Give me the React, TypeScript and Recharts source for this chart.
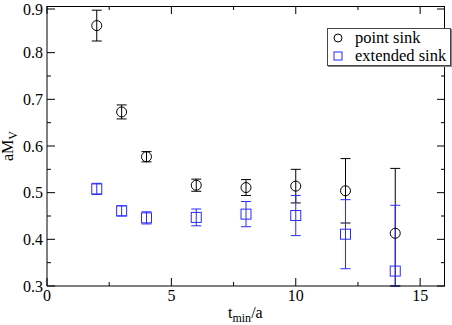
import { ErrorBar, Legend, Scatter, ScatterChart, XAxis, YAxis } from "recharts";

const tmin = [2, 3, 4, 6, 8, 10, 12, 14];
const pointSink = [0.858, 0.673, 0.577, 0.516, 0.511, 0.514, 0.504, 0.413];
const pointErr = [0.033, 0.015, 0.011, 0.013, 0.017, 0.036, 0.069, 0.139];
const extSink = [0.508, 0.461, 0.446, 0.447, 0.454, 0.451, 0.411, 0.332];
const extErr = [0.012, 0.011, 0.013, 0.018, 0.027, 0.043, 0.074, 0.141];

const xTicks = [0, 2.5, 5, 7.5, 10, 12.5, 15];
const xMajor = [0, 5, 10, 15];
const yTicks = [0.3, 0.35, 0.4, 0.45, 0.5, 0.55, 0.6, 0.65, 0.7, 0.75, 0.8, 0.85, 0.9];
const yMajor = [0.3, 0.4, 0.5, 0.6, 0.7, 0.8, 0.9];
const X_MAX = 16;
const Y_MIN = 0.3;
const Y_MAX = 0.9;

const W = 452;
const H = 325;
const Y_AXIS_W = 47;
const X_AXIS_H = 39;
const margin = { top: 6, right: 7, bottom: 0, left: 0 };
const PLOT_TOP = margin.top;
const PLOT_RIGHT = W - margin.right;

const BLUE = "#2b2bff";
const font = "'Liberation Serif', 'Times New Roman', serif";

const pointData = tmin.map((t, i) => ({ t, v: pointSink[i], err: pointErr[i] }));
const extData = tmin.map((t, i) => ({ t, v: extSink[i], err: extErr[i] }));

// error bars are not clipped by recharts, so stop them at the frame
const clippedErr = (d: { v: number; err: number }) => [
  Math.min(d.err, d.v - Y_MIN),
  Math.min(d.err, Y_MAX - d.v),
];

const isMajor = (list: number[], v: number) => list.some((m) => Math.abs(m - v) < 1e-6);
const tickLen = (list: number[], v: number) => (isMajor(list, v) ? 8 : 4);

// inward ticks, drawn by hand since recharts only draws them outward,
// plus the mirrored ones on the top and right sides
function BottomTick({ x, y, payload }: any) {
  const len = tickLen(xMajor, payload.value);
  return (
    <g>
      <line x1={x} x2={x} y1={y} y2={y - len} stroke="#000" />
      <line x1={x} x2={x} y1={PLOT_TOP} y2={PLOT_TOP + len} stroke="#000" />
      {isMajor(xMajor, payload.value) && (
        <text x={x} y={y + 15} textAnchor="middle" fontSize={16} fontFamily={font} fill="#000">
          {payload.value}
        </text>
      )}
    </g>
  );
}

function LeftTick({ x, y, payload }: any) {
  const v = payload.value;
  const len = tickLen(yMajor, v);
  return (
    <g>
      <line x1={x} x2={x + len} y1={y} y2={y} stroke="#000" />
      <line x1={PLOT_RIGHT} x2={PLOT_RIGHT - len} y1={y} y2={y} stroke="#000" />
      {isMajor(yMajor, v) && (
        <text x={x - 4} y={y + 5.5} textAnchor="end" fontSize={16} fontFamily={font} fill="#000">
          {v.toFixed(1)}
        </text>
      )}
    </g>
  );
}

function XLabel({ viewBox }: any) {
  const cx = viewBox.x + viewBox.width / 2;
  return (
    <text x={cx - 18} y={318} fontFamily={font} fontSize={16} fill="#000">
      t<tspan fontSize={12} dy={4}>min</tspan>
      <tspan dy={-4}>/a</tspan>
    </text>
  );
}

function YLabel({ viewBox }: any) {
  const cy = viewBox.y + viewBox.height / 2;
  return (
    <text
      transform={`translate(13,${cy}) rotate(-90)`}
      textAnchor="middle"
      fontFamily={font}
      fontSize={16}
      fill="#000"
    >
      aM<tspan fontSize={12} dy={4}>V</tspan>
    </text>
  );
}

const circleShape = (p: any) => (
  <circle cx={p.cx} cy={p.cy} r={5} fill="none" stroke="#000" strokeWidth={1} />
);
const squareShape = (p: any) => (
  <rect x={p.cx - 5} y={p.cy - 5} width={10} height={10} fill="none" stroke={BLUE} strokeWidth={1} />
);

function LegendBox() {
  const row = { display: "flex", alignItems: "center", height: 18 } as const;
  return (
    <div
      style={{
        border: "1px solid #444",
        boxShadow: "1px 1px 0 #888",
        background: "#fff",
        padding: "0 4px 0 5px",
        fontFamily: font,
        fontSize: 16.5,
        lineHeight: "18px",
        whiteSpace: "nowrap",
      }}
    >
      <div style={row}>
        <svg width={10} height={10} style={{ marginRight: 12 }}>
          <circle cx={5} cy={5} r={4} fill="none" stroke="#000" />
        </svg>
        point sink
      </div>
      <div style={row}>
        <svg width={10} height={10} style={{ marginRight: 12 }}>
          <rect x={1} y={1} width={8} height={8} fill="none" stroke={BLUE} />
        </svg>
        extended sink
      </div>
    </div>
  );
}

export default function App() {
  return (
    <div style={{ position: "absolute", left: 0, top: 0, width: W, height: H }}>
      {/* top and right sides of the frame, under the chart and its legend */}
      <div
        style={{
          position: "absolute",
          left: Y_AXIS_W,
          top: PLOT_TOP,
          width: PLOT_RIGHT - Y_AXIS_W,
          height: H - X_AXIS_H - PLOT_TOP,
          boxSizing: "border-box",
          borderTop: "1px solid #000",
          borderRight: "1px solid #000",
          pointerEvents: "none",
        }}
      />
      <ScatterChart width={W} height={H} margin={margin}>
        <XAxis
          xAxisId="bottom"
          type="number"
          dataKey="t"
          domain={[0, X_MAX]}
          ticks={xTicks}
          allowDataOverflow
          height={X_AXIS_H}
          tickSize={0}
          tickMargin={0}
          tick={<BottomTick />}
          axisLine={{ stroke: "#000" }}
          label={{ content: (p: any) => <XLabel {...p} /> }}
        />
        <YAxis
          yAxisId="left"
          type="number"
          dataKey="v"
          domain={[Y_MIN, Y_MAX]}
          ticks={yTicks}
          allowDataOverflow
          width={Y_AXIS_W}
          tickSize={0}
          tickMargin={0}
          tick={<LeftTick />}
          axisLine={{ stroke: "#000" }}
          label={{ content: (p: any) => <YLabel {...p} /> }}
        />
        <Legend
          layout="horizontal"
          align="center"
          verticalAlign="middle"
          content={<LegendBox />}
          wrapperStyle={{ left: 327, top: 28, width: "auto" }}
        />
        <Scatter
          name="point sink"
          data={pointData}
          xAxisId="bottom"
          yAxisId="left"
          shape={circleShape}
          isAnimationActive={false}
        >
          <ErrorBar dataKey={clippedErr} direction="y" width={5} stroke="#000" strokeWidth={1} isAnimationActive={false} />
        </Scatter>
        <Scatter
          name="extended sink"
          data={extData}
          xAxisId="bottom"
          yAxisId="left"
          shape={squareShape}
          isAnimationActive={false}
        >
          <ErrorBar dataKey={clippedErr} direction="y" width={5} stroke={BLUE} strokeWidth={1} isAnimationActive={false} />
        </Scatter>
      </ScatterChart>
    </div>
  );
}
